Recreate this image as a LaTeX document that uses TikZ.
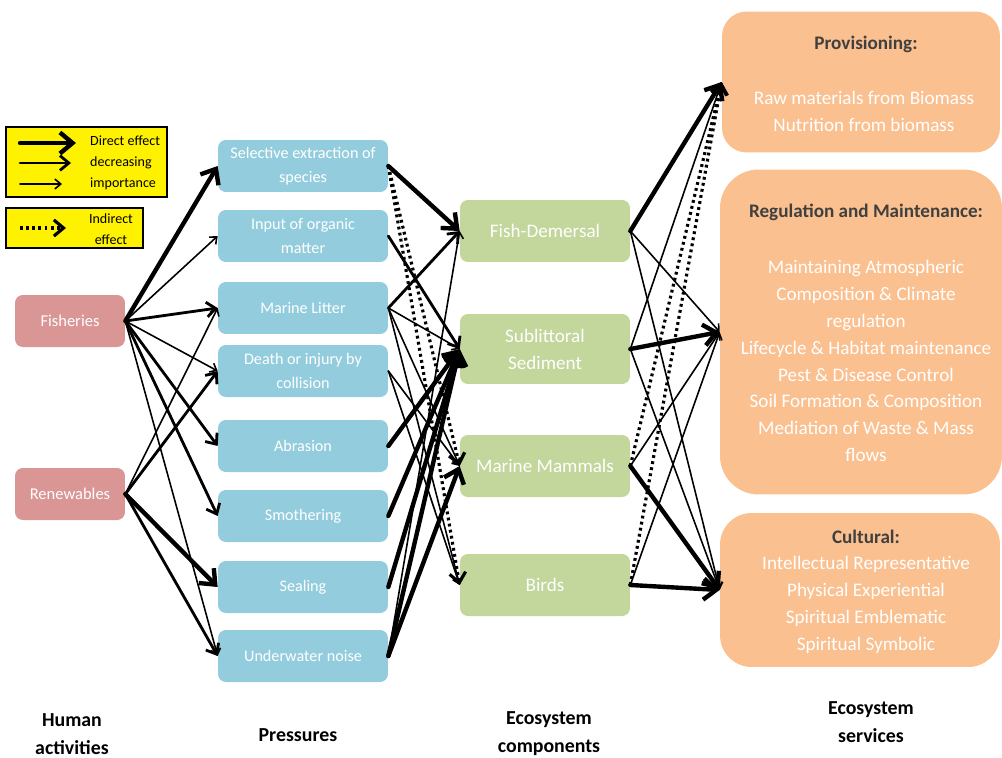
\documentclass[tikz,border=0pt]{standalone}
\usepackage{fontspec}
\setmainfont{Carlito}
\usetikzlibrary{arrows.meta}

\definecolor{activityred}{RGB}{217,150,148}
\definecolor{pressureblue}{RGB}{147,205,221}
\definecolor{componentgreen}{RGB}{195,214,155}
\definecolor{serviceorange}{RGB}{250,192,144}
\definecolor{headgray}{RGB}{64,64,64}

\tikzset{
  box/.style={rounded corners=4.5pt, text=white, align=center, inner sep=2pt},
  activity/.style={box, fill=activityred, minimum width=2.2cm, minimum height=1.04cm,
    font=\fontsize{9.4}{13}\selectfont},
  pressure/.style={box, fill=pressureblue, minimum width=3.4cm, minimum height=1.04cm,
    font=\fontsize{9.2}{13.5}\selectfont},
  component/.style={box, fill=componentgreen, minimum width=3.4cm, minimum height=1.24cm,
    font=\fontsize{10.9}{15.3}\selectfont},
  service/.style={fill=serviceorange, minimum width=5.6cm},
  servicehead/.style={text=headgray, font=\bfseries\fontsize{10.9}{15}\selectfont},
  servicebody/.style={text=white, align=center, font=\fontsize{10.9}{15.3}\selectfont},
  column/.style={align=center, font=\bfseries\fontsize{11.3}{16}\selectfont},
  legendbox/.style={draw, line width=1.1pt, fill=yellow},
  legendtext/.style={align=left, font=\fontsize{8}{11.8}\selectfont},
  fx/.style={-{Straight Barb[length=1.2pt 2.4, width=2pt 4]}, line cap=round},
  majorfx/.style={fx, line width=2.5pt},
  midfx/.style={fx, line width=1.6pt},
  minorfx/.style={fx, line width=0.9pt},
  indirectfx/.style={fx, line cap=butt, line width=1.8pt, dash pattern=on 1.6pt off 1.9pt}
}

\begin{document}
\begin{tikzpicture}[x=0.02cm, y=-0.02cm]
  \useasboundingbox (0,0) rectangle (1002,758);

  % Legend
  \node[legendbox, minimum width=3.22cm, minimum height=1.4cm] (legdirect) at (86.5,162) {};
  \coordinate (d1a) at (20,143); \coordinate (d1b) at (76,143);
  \coordinate (d2a) at (20,163); \coordinate (d2b) at (71,163);
  \coordinate (d3a) at (20,184); \coordinate (d3b) at (62,184);
  \draw[fx, line width=2.5pt] (d1a) -- (d1b);
  \draw[fx, line width=1.6pt] (d2a) -- (d2b);
  \draw[fx, line width=0.9pt] (d3a) -- (d3b);
  \node[legendtext, anchor=west] (legdirecttext) at (84,163)
    {Direct effect\\decreasing\\importance};

  \node[legendbox, minimum width=2.74cm, minimum height=0.8cm] (legindirect) at (74.5,228) {};
  \coordinate (i1a) at (20,228); \coordinate (i1b) at (66,228);
  \draw[indirectfx] (i1a) -- (i1b);
  \node[legendtext, align=center] (legindirecttext) at (111,229) {Indirect\\effect};

  % Human activities
  \node[activity] (fish) at (70,321) {Fisheries};
  \node[activity] (ren) at (70,494) {Renewables};

  % Pressures
  \node[pressure] (sel) at (303,166) {Selective extraction of\\species};
  \node[pressure] (organic) at (303,236) {Input of organic\\matter};
  \node[pressure] (litter) at (303,308) {Marine Litter};
  \node[pressure] (death) at (303,371) {Death or injury by\\collision};
  \node[pressure] (abrasion) at (303,446) {Abrasion};
  \node[pressure] (smother) at (303,516) {Smothering};
  \node[pressure] (seal) at (303,587) {Sealing};
  \node[pressure] (noise) at (303,656) {Underwater noise};

  % Ecosystem components
  \node[component] (demersal) at (545,231) {Fish-Demersal};
  \node[component, minimum height=1.4cm] (sediment) at (545,349) {Sublittoral\\Sediment};
  \node[component] (mammals) at (545,466) {Marine Mammals};
  \node[component] (birds) at (545,585) {Birds};

  % Ecosystem services
  \node[service, rounded corners=14pt, minimum width=5.56cm, minimum height=2.82cm] (prov) at (861,82) {};
  \node[servicehead] (provhead) at (866,44) {Provisioning:};
  \node[servicebody] (provbody) at (864,111)
    {Raw materials from Biomass\\Nutrition from biomass};

  \node[service, rounded corners=22pt, minimum width=5.64cm, minimum height=6.5cm] (reg) at (861,332) {};
  \node[servicehead] (reghead) at (866,212) {Regulation and Maintenance:};
  \node[servicebody] (regbody) at (866,361)
    {Maintaining Atmospheric\\Composition \& Climate\\regulation\\Lifecycle \& Habitat maintenance\\
     Pest \& Disease Control\\Soil Formation \& Composition\\Mediation of Waste \& Mass\\flows};

  \node[service, rounded corners=18pt, minimum width=5.6cm, minimum height=3.08cm] (cult) at (860,590) {};
  \node[servicehead] (culthead) at (866,537) {Cultural:};
  \node[servicebody] (cultbody) at (866,605)
    {Intellectual Representative\\Physical Experiential\\Spiritual Emblematic\\Spiritual Symbolic};

  % Activities to pressures
  \foreach \a/\b in {fish/sel, ren/seal}
    \draw[majorfx] (\a.east) -- (\b.west);
  \foreach \a/\b in {fish/litter, fish/abrasion, fish/smother, ren/death, ren/noise}
    \draw[midfx] (\a.east) -- (\b.west);
  \foreach \a/\b in {fish/organic, fish/death, fish/noise, ren/litter}
    \draw[minorfx] (\a.east) -- (\b.west);

  % Pressures to components
  \foreach \a/\b in {sel/demersal, abrasion/sediment, smother/sediment, seal/sediment,
                     noise/sediment, noise/mammals}
    \draw[majorfx] (\a.east) -- (\b.west);
  \foreach \a/\b in {organic/sediment, litter/demersal}
    \draw[midfx] (\a.east) -- (\b.west);
  \foreach \a/\b in {litter/sediment, litter/mammals, litter/birds, death/mammals,
                     death/birds, noise/demersal}
    \draw[minorfx] (\a.east) -- (\b.west);
  \foreach \a/\b in {sel/mammals, sel/birds}
    \draw[indirectfx] (\a.east) -- (\b.west);

  % Components to services
  \foreach \a/\b in {demersal/prov, sediment/reg, mammals/cult, birds/cult}
    \draw[majorfx] (\a.east) -- (\b.west);
  \foreach \a/\b in {demersal/reg, demersal/cult, sediment/prov, sediment/cult,
                     mammals/reg, birds/reg}
    \draw[minorfx] (\a.east) -- (\b.west);
  \foreach \a/\b in {mammals/prov, birds/prov}
    \draw[indirectfx] (\a.east) -- (\b.west);

  % Column titles
  \node[column] (coltitle1) at (72,734) {Human\\activities};
  \node[column] (coltitle2) at (298,735) {Pressures};
  \node[column] (coltitle3) at (549,734) {Ecosystem\\components};
  \node[column] (coltitle4) at (871,722) {Ecosystem\\services};
\end{tikzpicture}
\end{document}
